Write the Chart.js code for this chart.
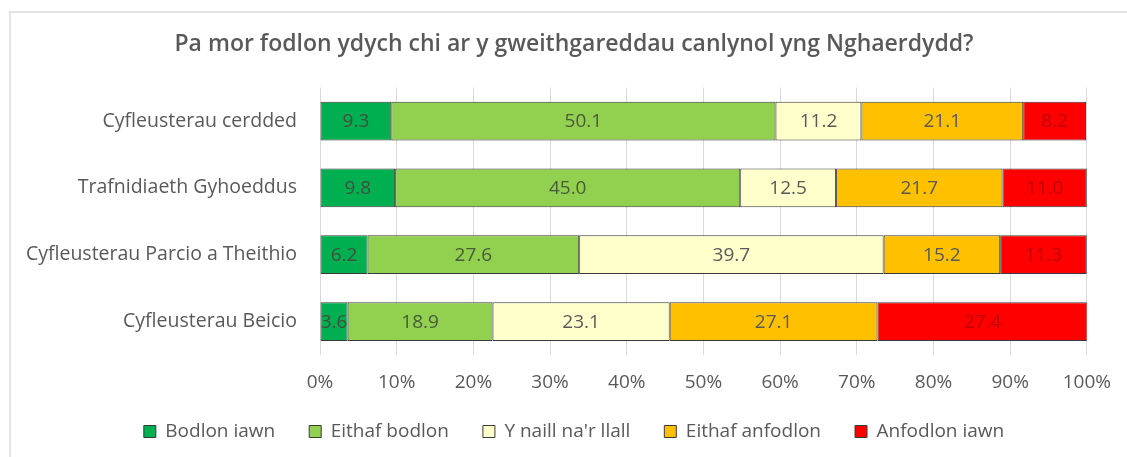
<!DOCTYPE html>
<html>
<head>
<meta charset="utf-8">
<script src="https://cdn.jsdelivr.net/npm/chart.js@4.4.1/dist/chart.umd.min.js"></script>
<style>
  body { margin: 0; background: #fff; }
  #frame { position: absolute; left: 9px; top: 11px; width: 1130px; height: 460px;
           border-left: 2px solid #e4e4e4; border-top: 2px solid #e4e4e4; }
  #wrap { position: absolute; left: 0; top: 0; width: 1127px; height: 457px; }
</style>
</head>
<body>
<div id="frame"></div>
<div id="wrap"><canvas id="mychart" width="1127" height="457"></canvas></div>
<script>
const categories = ["Cyfleusterau cerdded", "Trafnidiaeth Gyhoeddus", "Cyfleusterau Parcio a Theithio", "Cyfleusterau Beicio"];
const seriesNames = ["Bodlon iawn", "Eithaf bodlon", "Y naill na'r llall", "Eithaf anfodlon", "Anfodlon iawn"];
const bodlonIawn = [9.3, 9.8, 6.2, 3.6];
const eithafBodlon = [50.1, 45.0, 27.6, 18.9];
const naill = [11.2, 12.5, 39.7, 23.1];
const eithafAnfodlon = [21.1, 21.7, 15.2, 27.1];
const anfodlonIawn = [8.2, 11.0, 11.3, 27.4];
const xTicks = [0, 10, 20, 30, 40, 50, 60, 70, 80, 90, 100];

const colours = ["#00b050", "#92d050", "#ffffcc", "#ffc000", "#ff0000"];
const labelColours = ["#3f4f3f", "#4a5a3a", "#595959", "#595959", "#c00000"];
const allValues = [bodlonIawn, eithafBodlon, naill, eithafAnfodlon, anfodlonIawn];

// draw the numbers inside each bar segment
const barLabels = {
    id: "barLabels",
    afterDatasetsDraw(chart) {
        const ctx = chart.ctx;
        ctx.save();
        ctx.font = "19px 'Open Sans'";
        ctx.textAlign = "center";
        ctx.textBaseline = "middle";
        chart.data.datasets.forEach((ds, i) => {
            chart.getDatasetMeta(i).data.forEach((bar, j) => {
                let cx = (bar.x + bar.base) / 2;
                ctx.fillStyle = labelColours[i];
                ctx.fillText(ds.data[j].toFixed(1), cx, bar.y + 1);
            });
        });
        ctx.restore();
    }
};

let datasets = [];
for (let i = 0; i < seriesNames.length; i++) {
    datasets.push({
        label: seriesNames[i],
        data: allValues[i],
        backgroundColor: colours[i],
        borderColor: "#3a3a3a",
        borderWidth: 1,
        borderSkipped: false,
        barPercentage: 0.58,
        categoryPercentage: 1.0
    });
}

new Chart("mychart", {
    type: "bar",
    data: { labels: categories, datasets: datasets },
    plugins: [barLabels],
    options: {
        indexAxis: "y",
        responsive: false,
        animation: false,
        layout: { padding: { top: 31, right: 0, bottom: 6, left: 21 } },
        plugins: {
            title: {
                display: true,
                text: "Pa mor fodlon ydych chi ar y gweithgareddau canlynol yng Nghaerdydd?",
                color: "#595959",
                font: { family: "'Open Sans'", size: 23, weight: "600" },
                padding: { top: 0, bottom: 29 }
            },
            legend: {
                position: "bottom",
                labels: {
                    color: "#595959",
                    font: { family: "'Open Sans'", size: 19 },
                    boxWidth: 12,
                    boxHeight: 12,
                    padding: 34
                }
            },
            tooltip: { enabled: false }
        },
        scales: {
            x: {
                stacked: true,
                min: 0,
                max: 100,
                afterBuildTicks: (scale) => { scale.ticks = xTicks.map(v => ({ value: v })); },
                ticks: {
                    color: "#595959",
                    font: { family: "'Open Sans'", size: 19 },
                    padding: 16,
                    callback: (v) => v + "%"
                },
                grid: { color: "#d9d9d9", drawTicks: false },
                border: { display: false },
                afterFit: (scale) => { scale.height = 33; }
            },
            y: {
                stacked: true,
                ticks: {
                    color: "#595959",
                    font: { family: "'Open Sans'", size: 19.5 },
                    padding: 15
                },
                grid: { display: false },
                border: { display: false },
                afterFit: (scale) => { scale.width = 299; }
            },
            // empty right-hand strip so the plot ends where the reference does
            yRight: {
                type: "category",
                position: "right",
                ticks: { display: false },
                grid: { display: false },
                border: { display: false },
                afterFit: (scale) => { scale.width = 39; }
            }
        }
    }
});
</script>
</body>
</html>
